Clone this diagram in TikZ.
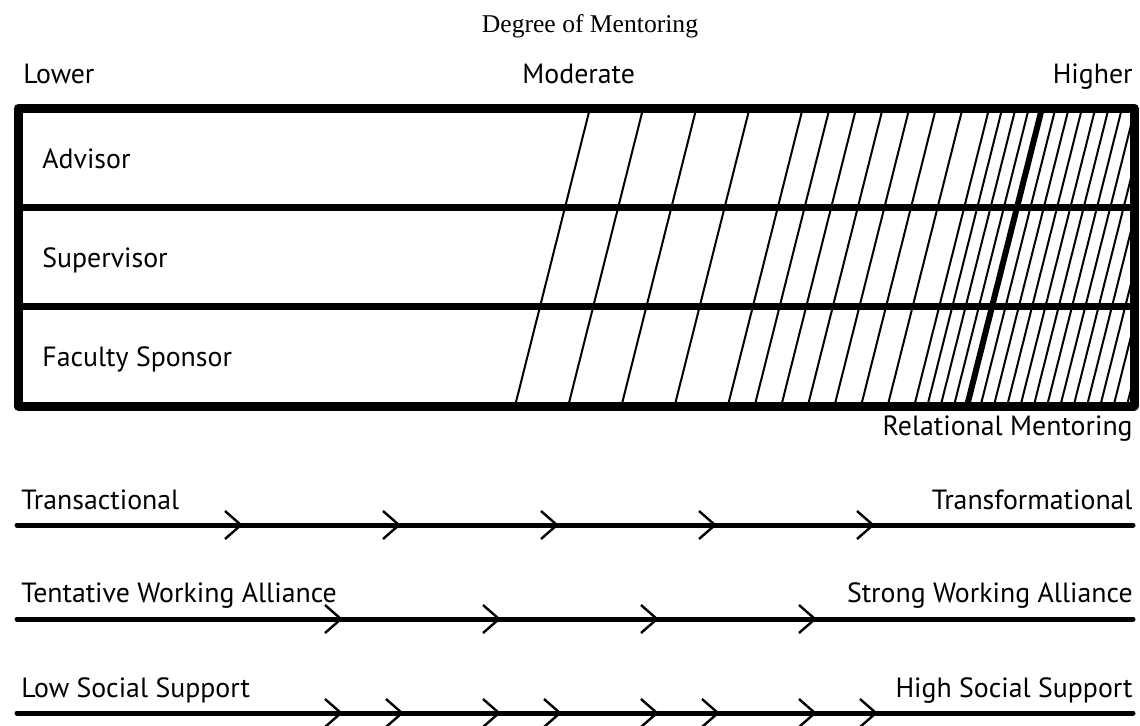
\documentclass[tikz,border=0pt]{standalone}
\usepackage{fontspec}
\setmainfont{Liberation Serif}
\setsansfont{PT Sans}
\usepackage{tikz}

\begin{document}
\begin{tikzpicture}[x=0.5pt, y=-0.5pt,
  every node/.style={font=\sffamily\fontsize{13.9}{16}\selectfont, inner sep=0pt},
  boxline/.style={line width=4.5pt, line join=round},
  rowline/.style={line width=3.5pt},
  slat/.style={line width=1pt},
  scaleline/.style={line width=2.5pt, line cap=round},
  chevron/.style={line width=1.2pt}]
\useasboundingbox (0,0) rectangle (1140,725);

% heading and ends of the scale
\node[anchor=base, font=\rmfamily\fontsize{12.8}{15}\selectfont] (title) at (590,32) {Degree of Mentoring};
\node[anchor=base west] (lower) at (23,83) {Lower};
\node[anchor=base west] (moderate) at (522,83) {Moderate};
\node[anchor=base east] (higher) at (1133,83) {Higher};

% slanted lines, closer together towards the right
\begin{scope}
\clip (18,108) rectangle (1134,406);
\foreach \k in {0,...,4} \draw[slat] ({515+53.2*\k},406) -- ++(75,-298);
\foreach \k in {1,...,7} \draw[slat] ({728+26.6*\k},406) -- ++(75,-298);
\foreach \k in {1,...,16} \draw[slat] ({914+13.3*\k},406) -- ++(75,-298);
\draw[line width=3pt] (967,406) -- ++(75,-298);
\end{scope}

% the box with its three rows
\draw[boxline] (18,108) rectangle (1134,406);
\draw[rowline] (18,207) -- (1134,207);
\draw[rowline] (18,306) -- (1134,306);
\node[anchor=base west] (advisor) at (42,168) {Advisor};
\node[anchor=base west] (supervisor) at (42,267) {Supervisor};
\node[anchor=base west] (sponsor) at (42,366) {Faculty Sponsor};
\node[anchor=base east] (relational) at (1133,435) {Relational Mentoring};

% three continua
\coordinate (a0) at (17,525); \coordinate (a1) at (1133,525);
\draw[scaleline] (a0) -- (a1);
\node[anchor=base west] (transact) at (21,509) {Transactional};
\node[anchor=base east] (transform) at (1133,509) {Transformational};
\foreach \x in {241,399,557,715,873}
  \draw[chevron] (\x-16,511) -- (\x,525) -- (\x-16,539);

\coordinate (b0) at (17,619); \coordinate (b1) at (1133,619);
\draw[scaleline] (b0) -- (b1);
\node[anchor=base west] (tentative) at (21,602) {Tentative Working Alliance};
\node[anchor=base east] (strong) at (1133,602) {Strong Working Alliance};
\foreach \x in {341,499,657,815}
  \draw[chevron] (\x-16,605) -- (\x,619) -- (\x-16,633);

\coordinate (c0) at (17,713); \coordinate (c1) at (1133,713);
\draw[scaleline] (c0) -- (c1);
\node[anchor=base west] (lowsup) at (21,697) {Low Social Support};
\node[anchor=base east] (highsup) at (1133,697) {High Social Support};
\foreach \x in {341,402,499,560,657,718,815,876}
  \draw[chevron] (\x-16,699) -- (\x,713) -- (\x-16,727);
\end{tikzpicture}
\end{document}
